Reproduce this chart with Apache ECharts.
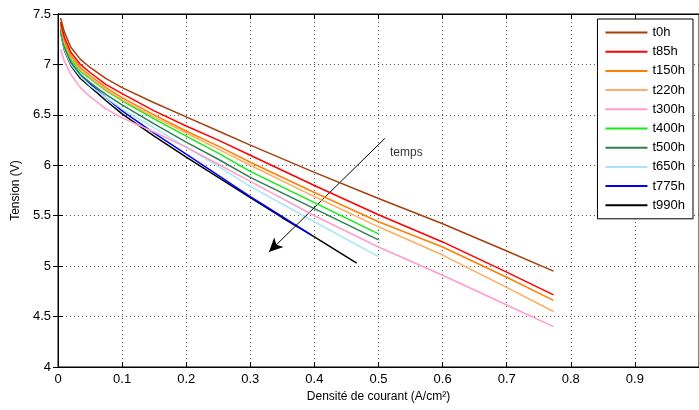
<!DOCTYPE html>
<html>
<head>
<meta charset="utf-8">
<script src="https://cdn.jsdelivr.net/npm/echarts@6/dist/echarts.min.js"></script>
<style>
html,body{margin:0;padding:0;background:#fff;}
#chart{width:699px;height:410px;}
</style>
</head>
<body>
<div id="chart"></div>
<script>
// densite de courant (A/cm2)
var xLong = [0.004,0.01,0.02,0.035,0.05,0.075,0.1,0.15,0.2,0.25,0.3,0.4,0.5,0.6,0.7,0.773];
var xHalf = [0.004,0.01,0.02,0.035,0.05,0.075,0.1,0.15,0.2,0.25,0.3,0.4,0.5];
var x775 = [0.004,0.01,0.02,0.035,0.05,0.075,0.1,0.15,0.2,0.25,0.3,0.35,0.395];
var x990 = [0.004,0.01,0.02,0.035,0.05,0.075,0.1,0.15,0.2,0.25,0.3,0.35,0.4,0.466];

// tension (V)
var t0h   = [7.46,7.32,7.17,7.05,6.97,6.86,6.77,6.62,6.48,6.34,6.20,5.93,5.67,5.42,5.15,4.95];
var t85h  = [7.42,7.27,7.12,7.00,6.92,6.80,6.71,6.54,6.39,6.25,6.10,5.80,5.51,5.24,4.94,4.715];
var t150h = [7.40,7.24,7.09,6.97,6.89,6.77,6.67,6.50,6.34,6.19,6.03,5.73,5.44,5.19,4.89,4.66];
var t220h = [7.38,7.22,7.07,6.95,6.87,6.75,6.65,6.48,6.32,6.16,6.00,5.69,5.39,5.11,4.79,4.55];
var t300h = [7.15,7.03,6.90,6.77,6.68,6.56,6.47,6.33,6.18,6.01,5.84,5.50,5.19,4.91,4.615,4.40];
var t400h = [7.36,7.20,7.05,6.93,6.86,6.74,6.64,6.46,6.29,6.12,5.94,5.63,5.32];
var t500h = [7.34,7.17,7.02,6.90,6.82,6.70,6.60,6.41,6.23,6.06,5.88,5.57,5.26];
var t650h = [7.33,7.15,7.00,6.88,6.79,6.67,6.56,6.37,6.18,5.99,5.79,5.44,5.095];
var t775h = [7.35,7.17,7.02,6.89,6.81,6.67,6.54,6.32,6.11,5.90,5.69,5.49,5.31];
var t990h = [7.32,7.14,6.99,6.86,6.78,6.64,6.51,6.29,6.08,5.88,5.68,5.48,5.29,5.03];

var names  = ['t0h','t85h','t150h','t220h','t300h','t400h','t500h','t650h','t775h','t990h'];
var colors = ['#a5400c','#ff0000','#ff7f00','#ffad60','#ff9ccc','#11ee11','#2e8050','#a6e6f8','#0000ff','#000000'];
var xsets  = [xLong,xLong,xLong,xLong,xLong,xHalf,xHalf,xHalf,x775,x990];
var ysets  = [t0h,t85h,t150h,t220h,t300h,t400h,t500h,t650h,t775h,t990h];

// fleche "temps"
var arrowFrom = [0.51, 6.267];
var arrowTo = [0.329, 5.139];
var tempsPos = [0.518, 6.12];

var xTicks = ['0','0.1','0.2','0.3','0.4','0.5','0.6','0.7','0.8','0.9'];
var yTicks = ['4','4.5','5','5.5','6','6.5','7','7.5'];

function pairs(xs, ys){
  var out = [];
  for (var i = 0; i < ys.length; i++){
    out.push([xs[i], ys[i]]);
  }
  return out;
}

var font = 'Liberation Sans, Arial, Helvetica, sans-serif';
var series = [];
for (var k = 0; k < names.length; k++){
  series.push({
    name: names[k],
    type: 'line',
    data: pairs(xsets[k], ysets[k]),
    showSymbol: false,
    smooth: false,
    lineStyle: {color: colors[k], width: 1.5},
    itemStyle: {color: colors[k]},
    z: 10 - k,
    animation: false
  });
}
series.push({
  name: 'fleche',
  type: 'line',
  data: [],
  markLine: {
    silent: true,
    symbol: ['none','arrow'],
    symbolSize: [10, 14],
    lineStyle: {color: '#000', width: 1, type: 'solid'},
    label: {show: false},
    data: [[{coord: arrowFrom}, {coord: arrowTo}]]
  },
  animation: false
});
series.push({
  name: 'temps',
  type: 'scatter',
  data: [tempsPos],
  symbolSize: 0,
  label: {show: true, position: 'right', distance: 0, formatter: 'temps',
          color: '#000', fontSize: 12, fontFamily: font},
  animation: false
});

var dotted = {show: true, lineStyle: {color: '#555', width: 1, type: [1, 3]}};

var chart = echarts.init(document.getElementById('chart'));
chart.setOption({
  backgroundColor: '#fff',
  animation: false,
  grid: {left: 58, right: -2, top: 14, bottom: 43, show: true, borderColor: '#000', borderWidth: 1},
  legend: {
    data: names,
    orient: 'vertical',
    right: 6,
    top: 19,
    padding: [6, 8, 6, 8],
    itemGap: 4.2,
    itemWidth: 42,
    itemHeight: 2,
    icon: 'rect',
    backgroundColor: '#fff',
    borderColor: '#000',
    borderWidth: 1,
    textStyle: {fontSize: 13, lineHeight: 15, color: '#000', fontFamily: font}
  },
  xAxis: [{
    type: 'value',
    min: 0,
    max: 1,
    interval: 0.1,
    name: 'Densité de courant (A/cm²)',
    nameLocation: 'middle',
    nameGap: 21,
    nameTextStyle: {fontSize: 12, color: '#000', fontFamily: font},
    axisLine: {show: true, lineStyle: {color: '#000', width: 1}},
    axisTick: {show: true, inside: true, length: 5, lineStyle: {color: '#000'}},
    axisLabel: {
      fontSize: 13, color: '#000', fontFamily: font, margin: 6, showMaxLabel: false,
      formatter: function(v){ var i = Math.round(v * 10); return xTicks[i] || ''; }
    },
    splitLine: dotted
  }, {
    type: 'value',
    position: 'top',
    min: 0,
    max: 1,
    interval: 0.1,
    axisLine: {show: true, lineStyle: {color: '#000', width: 1}},
    axisTick: {show: true, inside: true, length: 5, lineStyle: {color: '#000'}},
    axisLabel: {show: false},
    splitLine: {show: false}
  }],
  yAxis: [{
    type: 'value',
    min: 4,
    max: 7.5,
    interval: 0.5,
    name: 'Tension (V)',
    nameLocation: 'middle',
    nameGap: 23,
    nameRotate: 90,
    nameTextStyle: {fontSize: 12, color: '#000', fontFamily: font},
    axisLine: {show: true, lineStyle: {color: '#000', width: 1}},
    axisTick: {show: true, inside: true, length: 5, lineStyle: {color: '#000'}},
    axisLabel: {
      fontSize: 13, color: '#000', fontFamily: font, margin: 7,
      formatter: function(v){ var i = Math.round((v - 4) * 2); return yTicks[i] || ''; }
    },
    splitLine: dotted
  }, {
    type: 'value',
    position: 'right',
    min: 4,
    max: 7.5,
    interval: 0.5,
    axisLine: {show: true, lineStyle: {color: '#000', width: 1}},
    axisTick: {show: true, inside: true, length: 5, lineStyle: {color: '#000'}},
    axisLabel: {show: false},
    splitLine: {show: false}
  }],
  series: series
});
</script>
</body>
</html>
